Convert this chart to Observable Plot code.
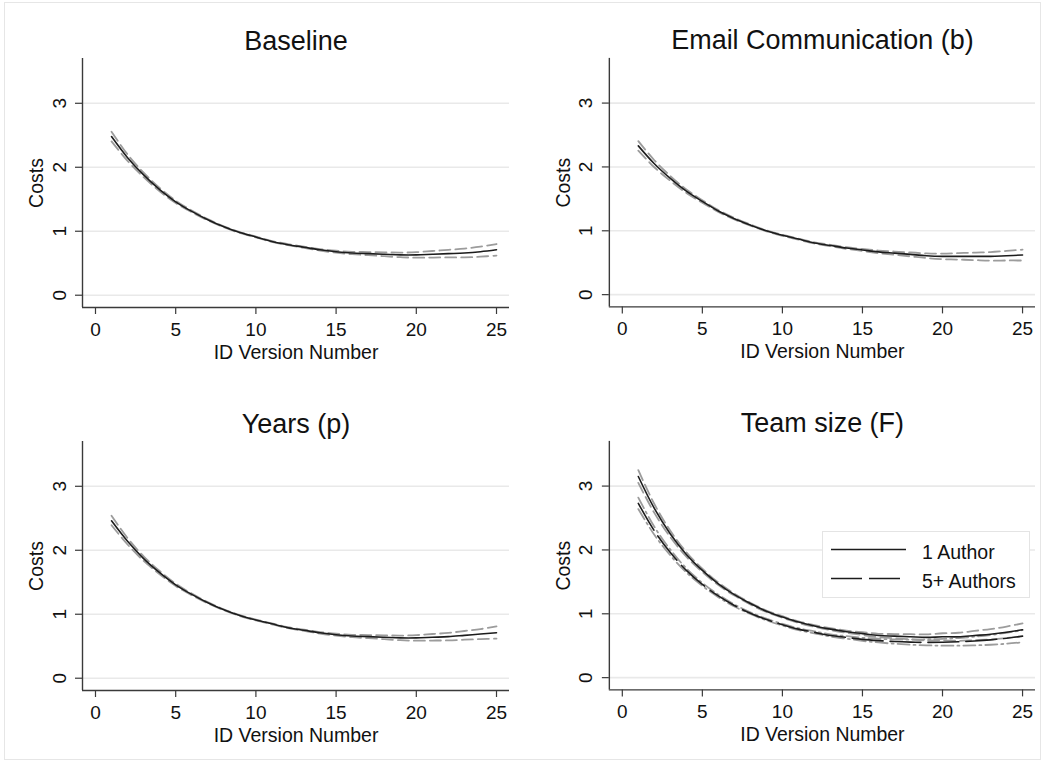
<!DOCTYPE html>
<html>
<head>
<meta charset="utf-8">
<script src="https://cdn.jsdelivr.net/npm/d3@7"></script>
<script src="https://cdn.jsdelivr.net/npm/@observablehq/plot@0.6"></script>
<style>
  body { margin: 0; background: #fff; }
  #fig { position: relative; width: 1045px; height: 763px; overflow: hidden; background: #fff;
         font-family: "Liberation Sans", Arial, Helvetica, sans-serif; }
  #border { position: absolute; left: 4px; top: 2px; width: 1035px; height: 756px; border: 1px solid #e6e6e6; }
  .panel { position: absolute; }
  .panel svg { overflow: visible; }
  #legend { position: absolute; left: 822px; top: 531px; width: 206px; height: 65px;
            border: 1px solid #e4e4e4; background: #fff; }
</style>
</head>
<body>
<div id="fig"><div id="border"></div></div>
<script>
// ---------- data ----------
const versions = [1,2,3,4,5,6,7,8,9,10,11,12,13,14,15,16,17,18,19,20,21,22,23,24,25];
const xTicks = [0,5,10,15,20,25];
const yTicks = [0,1,2,3];

const baseEst = [2.48,2.15,1.88,1.65,1.46,1.31,1.18,1.07,0.98,0.91,0.84,0.79,0.75,0.71,0.68,0.66,0.65,0.64,0.63,0.63,0.64,0.65,0.66,0.68,0.71];
const baseHi  = [2.555,2.20,1.915,1.675,1.478,1.323,1.19,1.078,0.987,0.917,0.847,0.798,0.76,0.722,0.695,0.679,0.674,0.67,0.666,0.673,0.691,0.709,0.728,0.758,0.80];
const baseLo  = [2.405,2.10,1.845,1.625,1.442,1.297,1.17,1.062,0.973,0.903,0.833,0.782,0.74,0.698,0.665,0.641,0.626,0.61,0.594,0.587,0.589,0.591,0.592,0.602,0.62];

const emailEst = [2.33,2.05,1.82,1.62,1.46,1.31,1.19,1.09,1.00,0.93,0.87,0.81,0.77,0.73,0.70,0.67,0.65,0.63,0.61,0.60,0.60,0.60,0.60,0.61,0.62];
const emailHi  = [2.405,2.105,1.858,1.647,1.479,1.324,1.201,1.099,1.008,0.938,0.878,0.819,0.781,0.743,0.716,0.69,0.675,0.661,0.647,0.644,0.651,0.659,0.667,0.685,0.705];
const emailLo  = [2.255,1.995,1.782,1.593,1.441,1.296,1.179,1.081,0.992,0.922,0.862,0.801,0.759,0.717,0.684,0.65,0.625,0.599,0.573,0.556,0.549,0.541,0.533,0.535,0.535];

const yearsEst = [2.46,2.14,1.87,1.65,1.46,1.31,1.18,1.07,0.98,0.91,0.85,0.79,0.75,0.71,0.68,0.66,0.65,0.64,0.63,0.63,0.64,0.65,0.67,0.69,0.71];
const yearsHi  = [2.54,2.19,1.905,1.675,1.478,1.323,1.19,1.078,0.987,0.917,0.857,0.798,0.76,0.722,0.695,0.679,0.674,0.67,0.666,0.673,0.691,0.709,0.738,0.768,0.81];
const yearsLo  = [2.39,2.09,1.835,1.625,1.442,1.297,1.17,1.062,0.973,0.903,0.843,0.782,0.74,0.698,0.665,0.641,0.626,0.61,0.594,0.587,0.589,0.591,0.602,0.612,0.62];

const team1Est = [3.15,2.65,2.25,1.93,1.68,1.47,1.30,1.16,1.04,0.95,0.87,0.81,0.76,0.72,0.69,0.66,0.65,0.64,0.63,0.64,0.64,0.66,0.68,0.71,0.75];
const team1Hi  = [3.25,2.72,2.30,1.965,1.705,1.489,1.315,1.173,1.052,0.962,0.882,0.823,0.775,0.738,0.712,0.687,0.683,0.68,0.677,0.695,0.703,0.732,0.761,0.80,0.85];
const team1Lo  = [3.05,2.58,2.20,1.895,1.655,1.451,1.285,1.147,1.028,0.938,0.858,0.797,0.745,0.702,0.668,0.633,0.617,0.60,0.583,0.585,0.577,0.588,0.599,0.62,0.65];

const team5Est = [2.73,2.30,1.96,1.68,1.46,1.28,1.13,1.01,0.91,0.83,0.76,0.71,0.66,0.63,0.60,0.58,0.565,0.556,0.552,0.554,0.561,0.574,0.592,0.617,0.65];
const team5Hi  = [2.82,2.363,2.005,1.712,1.484,1.299,1.146,1.024,0.923,0.843,0.774,0.725,0.677,0.65,0.624,0.609,0.599,0.596,0.598,0.607,0.621,0.642,0.669,0.703,0.745];
const team5Lo  = [2.64,2.237,1.915,1.648,1.436,1.261,1.114,0.996,0.897,0.817,0.746,0.695,0.643,0.61,0.576,0.551,0.531,0.516,0.506,0.501,0.501,0.506,0.515,0.531,0.555];

const titles = ["Baseline", "Email Communication (b)", "Years (p)", "Team size (F)"];
const legendLabels = ["1 Author", "5+ Authors"];
const xLabel = "ID Version Number";
const yLabel = "Costs";

// ---------- styles ----------
const FONT = "Liberation Sans, Arial, Helvetica, sans-serif";
const estStyle = {stroke: "#1c1c1c", strokeWidth: 1.6};
const estDashStyle = {stroke: "#1c1c1c", strokeWidth: 1.6, strokeDasharray: "31,7"};
const bandStyle = {stroke: "#9c9c9c", strokeWidth: 1.8, strokeDasharray: "11,5"};
const bandStyle2 = {stroke: "#9c9c9c", strokeWidth: 1.8, strokeDasharray: "12,4,2,4"};
const xDomain = [-0.81, 25.81];
const yDomain = [-0.192, 3.70];

function rows(arr) { return versions.map((v, i) => ({x: v, y: arr[i]})); }
function lineMark(arr, style) {
  return Plot.line(rows(arr), {x: "x", y: "y", curve: "catmull-rom", ...style});
}

function panel(title, series, left, top, marginRight) {
  const marks = [
    Plot.ruleY(yTicks, {stroke: "#e9e9e9", strokeWidth: 1.6}),
    ...series.map(s => lineMark(s.data, s.style)),
    Plot.ruleX([xDomain[0]], {stroke: "#3a3a3a", strokeWidth: 1.4}),
    Plot.ruleY([yDomain[0]], {stroke: "#3a3a3a", strokeWidth: 1.4}),
    Plot.axisX({ticks: xTicks, tickSize: 7, tickPadding: 8, fontSize: 19, label: null, stroke: "#3a3a3a", strokeWidth: 1.2, fill: "#111"}),
    Plot.axisY({ticks: yTicks, tickSize: 7, tickFormat: () => "", label: null, stroke: "#3a3a3a", strokeWidth: 1.2}),
    Plot.text(yTicks, {y: d => d, text: d => String(d), frameAnchor: "left", rotate: -90, dx: -17,
                       textAnchor: "middle", lineAnchor: "bottom", fontSize: 19, fill: "#111"}),
    Plot.text([yLabel], {frameAnchor: "left", rotate: -90, dx: -46, textAnchor: "middle", lineAnchor: "middle", fontSize: 19.5, fill: "#111"}),
    Plot.text([xLabel], {frameAnchor: "bottom", dy: 51, textAnchor: "middle", lineAnchor: "bottom", fontSize: 19.5, fill: "#111"}),
    Plot.text([title], {frameAnchor: "top", dy: -9, textAnchor: "middle", lineAnchor: "bottom", fontSize: 27, fill: "#111"})
  ];
  const chart = Plot.plot({
    width: 82 + 427 + marginRight,
    height: 380,
    marginLeft: 82, marginRight, marginTop: 58, marginBottom: 73,
    x: {domain: xDomain, axis: null},
    y: {domain: yDomain, axis: null},
    style: {fontFamily: FONT, background: "transparent", overflow: "visible"},
    marks
  });
  const div = document.createElement("div");
  div.className = "panel";
  div.style.left = left + "px";
  div.style.top = top + "px";
  div.appendChild(chart);
  document.getElementById("fig").appendChild(div);
}

panel(titles[0], [
  {data: baseHi, style: bandStyle}, {data: baseLo, style: bandStyle}, {data: baseEst, style: estStyle}
], 0, 0, 13);
panel(titles[1], [
  {data: emailHi, style: bandStyle}, {data: emailLo, style: bandStyle}, {data: emailEst, style: estStyle}
], 527, 0, 10);
panel(titles[2], [
  {data: yearsHi, style: bandStyle}, {data: yearsLo, style: bandStyle}, {data: yearsEst, style: estStyle}
], 0, 382.6, 13);
panel(titles[3], [
  {data: team1Hi, style: bandStyle}, {data: team1Lo, style: bandStyle},
  {data: team5Hi, style: bandStyle2}, {data: team5Lo, style: bandStyle2},
  {data: team1Est, style: estStyle}, {data: team5Est, style: estDashStyle}
], 527, 382.6, 10);

// ---------- legend ----------
const ns = "http://www.w3.org/2000/svg";
const leg = document.createElement("div");
leg.id = "legend";
const lsvg = document.createElementNS(ns, "svg");
lsvg.setAttribute("width", 206); lsvg.setAttribute("height", 65);
const legStyles = [estStyle, estDashStyle];
legendLabels.forEach((lab, i) => {
  const y = 17.5 + i * 29;
  const ln = document.createElementNS(ns, "line");
  ln.setAttribute("x1", 8); ln.setAttribute("x2", i === 0 ? 83 : 77);
  ln.setAttribute("y1", y); ln.setAttribute("y2", y);
  ln.setAttribute("stroke", legStyles[i].stroke);
  ln.setAttribute("stroke-width", legStyles[i].strokeWidth);
  if (legStyles[i].strokeDasharray) ln.setAttribute("stroke-dasharray", legStyles[i].strokeDasharray);
  lsvg.appendChild(ln);
  const t = document.createElementNS(ns, "text");
  t.setAttribute("x", 99); t.setAttribute("y", y + 9);
  t.setAttribute("font-size", 19.5); t.setAttribute("fill", "#111");
  t.setAttribute("font-family", FONT);
  t.textContent = lab;
  lsvg.appendChild(t);
});
leg.appendChild(lsvg);
document.getElementById("fig").appendChild(leg);
</script>
</body>
</html>
